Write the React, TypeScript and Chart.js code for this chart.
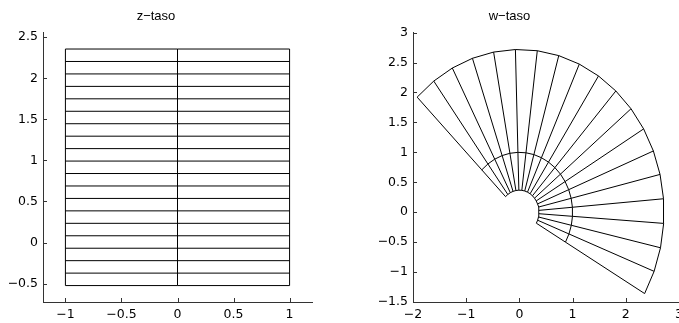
import React, { useEffect, useRef } from 'react';
import { Chart, registerables } from 'chart.js';

Chart.register(...registerables);

// z-plane grid: vertical lines at zX, horizontal lines at zY
const zX = [-1, 0, 1];
const zY = [
  -0.5236, -0.372, -0.2204, -0.0689, 0.0827, 0.2343, 0.3858, 0.5374, 0.689, 0.8406,
  0.9921, 1.1437, 1.2952, 1.4468, 1.5984, 1.75, 1.9015, 2.0531, 2.2046, 2.3562,
];

// tick values
const zXTicks = [-1, -0.5, 0, 0.5, 1];
const zYTicks = [-0.5, 0, 0.5, 1, 1.5, 2, 2.5];
const wXTicks = [-2, -1, 0, 1, 2, 3];
const wYTicks = [-1.5, -1, -0.5, 0, 0.5, 1, 1.5, 2, 2.5, 3];

// axis ranges
const zXRange = [-1.2, 1.2];
const zYRange = [-0.7236, 2.5562];
const wXRange = [-2, 3];
const wYRange = [-1.5, 3];

const titles = ['z\u2212taso', 'w\u2212taso'];

type P = { x: number; y: number };

// w = exp(z)
const mapW = (p: P): P => {
  const r = Math.exp(p.x);
  return { x: r * Math.cos(p.y), y: r * Math.sin(p.y) };
};

const zLines = (): P[][] => {
  const lines: P[][] = [];
  zY.forEach((y) => lines.push(zX.map((x) => ({ x, y }))));
  zX.forEach((x) => lines.push(zY.map((y) => ({ x, y }))));
  return lines;
};

const TICK_FONT = '"DejaVu Sans", sans-serif';
const TITLE_FONT = '"Liberation Sans", Arial, Helvetica, sans-serif';

const fmt = (v: number) => {
  const s = String(Math.abs(v));
  return v < 0 ? '\u2212' + s : s;
};

const innerTicks = {
  id: 'innerTicks',
  afterDatasetsDraw(chart: any) {
    const ctx = chart.ctx;
    const area = chart.chartArea;
    ctx.save();
    ctx.strokeStyle = '#333';
    ctx.lineWidth = 1;
    const xs = chart.scales.x;
    const ys = chart.scales.y;
    ctx.beginPath();
    xs.ticks.forEach((t: any) => {
      const px = Math.round(xs.getPixelForValue(t.value)) + 0.5;
      ctx.moveTo(px, area.bottom);
      ctx.lineTo(px, area.bottom - 4);
    });
    ys.ticks.forEach((t: any) => {
      const py = Math.round(ys.getPixelForValue(t.value)) + 0.5;
      ctx.moveTo(area.left, py);
      ctx.lineTo(area.left + 4, py);
    });
    ctx.stroke();
    ctx.restore();
  },
};

function makeChart(
  canvas: HTMLCanvasElement,
  lines: P[][],
  title: string,
  xr: number[],
  yr: number[],
  xt: number[],
  yt: number[],
  yAxisWidth: number,
  rightPad: number
) {
  return new Chart(canvas, {
    type: 'scatter',
    data: {
      datasets: lines.map((l) => ({
        data: l,
        showLine: true,
        borderColor: '#000',
        borderWidth: 1,
        pointRadius: 0,
        pointHoverRadius: 0,
        fill: false,
        tension: 0,
      })),
    },
    options: {
      responsive: false,
      animation: false,
      events: [],
      layout: { padding: { top: 0, left: 0, right: rightPad, bottom: 0 } },
      plugins: {
        legend: { display: false },
        tooltip: { enabled: false },
        title: {
          display: true,
          text: title,
          color: '#000',
          font: { family: TITLE_FONT, size: 13, weight: 'normal' },
          padding: { top: 9, bottom: 8 },
        },
      },
      scales: {
        x: {
          type: 'linear',
          min: xr[0],
          max: xr[1],
          afterBuildTicks: (s: any) => {
            s.ticks = xt.map((v) => ({ value: v }));
          },
          afterFit: (s: any) => {
            s.height = 21;
          },
          grid: { display: false, drawTicks: false },
          border: { display: true, color: '#333', width: 1 },
          ticks: {
            color: '#000',
            font: { family: TICK_FONT, size: 12.5 },
            padding: 5,
            maxRotation: 0,
            autoSkip: false,
            callback: (v: any) => fmt(Number(v)),
          },
        },
        y: {
          type: 'linear',
          min: yr[0],
          max: yr[1],
          afterBuildTicks: (s: any) => {
            s.ticks = yt.map((v) => ({ value: v }));
          },
          afterFit: (s: any) => {
            s.width = yAxisWidth;
          },
          grid: { display: false, drawTicks: false },
          border: { display: true, color: '#333', width: 1 },
          ticks: {
            color: '#000',
            font: { family: TICK_FONT, size: 12.5 },
            padding: 5,
            autoSkip: false,
            callback: (v: any) => fmt(Number(v)),
          },
        },
      },
    } as any,
    plugins: [innerTicks],
  });
}

export default function App() {
  const leftRef = useRef<HTMLCanvasElement>(null);
  const rightRef = useRef<HTMLCanvasElement>(null);

  useEffect(() => {
    const zl = zLines();
    const wl = zl.map((l) => l.map(mapW));
    const c1 = makeChart(leftRef.current!, zl, titles[0], zXRange, zYRange, zXTicks, zYTicks, 43, 28);
    const c2 = makeChart(rightRef.current!, wl, titles[1], wXRange, wYRange, wXTicks, wYTicks, 73, 21);
    return () => {
      c1.destroy();
      c2.destroy();
    };
  }, []);

  return (
    <div
      style={{
        position: 'fixed',
        left: 0,
        top: 0,
        width: 679,
        height: 323,
        overflow: 'hidden',
        background: '#fff',
      }}
    >
      <canvas ref={leftRef} width={340} height={323} style={{ position: 'absolute', left: 0, top: 0 }} />
      <canvas ref={rightRef} width={360} height={323} style={{ position: 'absolute', left: 340, top: 0 }} />
    </div>
  );
}
